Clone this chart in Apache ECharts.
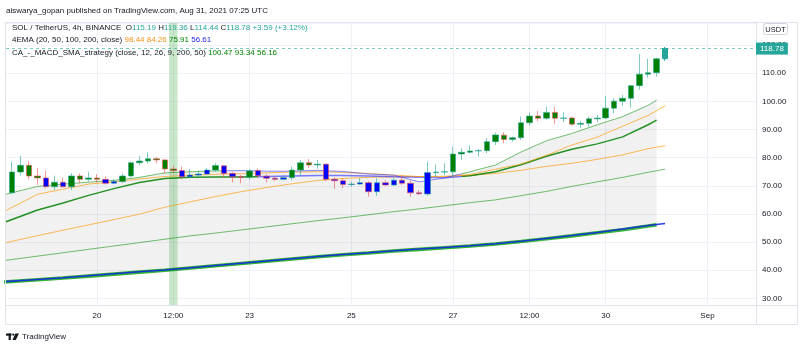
<!DOCTYPE html>
<html><head><meta charset="utf-8">
<script src="https://cdn.jsdelivr.net/npm/echarts@6/dist/echarts.min.js"></script>
<style>html,body{margin:0;padding:0;background:#fff}#c{width:800px;height:348px}</style>
</head><body><div id="c"></div>
<script>
// ---------------- data ----------------
const barStart = '2021-08-18 08:00';   // first visible 4h bar
const opens  = [67.5,74.9,77.3,73.5,72.8,69.7,71.3,69.7,73.5,72.3, 72.8,72.3,70.9,71.5,73.5,78.2,78.8,79.6,79.2,76.0,
                75.4,73.2,73.8,74.2,75.6,77.1,74.4,73.2,73.0,75.4, 73.4,72.7,72.3,72.9,75.6,78.2,77.4,77.7,72.3,71.8,
                70.5,70.6,71.1,67.9,71.1,70.3,72.0,70.9,67.5,67.1, 74.7,74.9,75.0,81.3,81.9,82.4,82.5,85.7,88.0,86.5,
                87.1,92.4,94.8,94.0,96.1,94.0,94.1,91.9,92.2,93.8, 94.1,97.6,100.1,101.1,105.6,109.7,110.2,115.19];
const closes = [74.9,77.3,73.5,72.8,69.7,71.3,69.7,73.5,72.3,72.8, 72.3,70.9,71.5,73.5,78.2,78.8,79.6,79.2,76.0,75.4,
                73.2,73.8,74.2,75.6,77.2,74.4,73.2,73.0,75.3,73.6, 72.7,72.3,72.9,75.6,78.2,77.4,77.7,72.3,71.8,70.5,
                70.6,71.1,67.9,71.1,70.3,72.0,70.9,67.5,67.2,74.7, 74.9,75.0,81.3,81.9,82.4,82.5,85.7,88.1,86.5,87.1,
                92.4,94.8,94.0,96.1,94.0,94.1,91.9,92.2,93.8,94.1, 97.6,100.1,101.1,105.6,109.7,110.2,115.19,118.78];
const lows   = [67.2,73.6,72.3,70.3,69.1,68.5,69.3,68.5,70.9,71.5, 71.1,70.5,70.6,71.0,73.0,77.4,78.0,78.0,74.4,74.4,
                72.4,72.7,73.2,73.8,75.0,72.9,71.2,70.9,72.1,72.9, 71.2,71.7,71.9,72.1,73.8,76.4,76.0,71.7,68.9,69.1,
                69.7,70.3,66.1,66.4,69.9,69.9,70.3,66.1,66.7,66.4, 73.2,73.8,73.2,79.2,81.6,80.4,81.6,84.5,85.1,85.7,
                86.3,91.4,93.0,93.4,91.9,92.6,91.4,90.4,91.0,92.6, 93.7,95.8,98.5,97.8,104.1,108.4,108.8,114.44];
const highs  = [78.4,80.7,78.8,76.3,75.4,73.6,73.0,74.5,74.4,75.0, 74.2,73.3,72.4,74.4,78.6,80.6,81.9,80.3,79.4,77.1,
                76.8,76.0,75.4,76.4,78.0,77.4,75.0,73.8,76.0,76.2, 74.1,73.5,73.8,76.8,79.2,79.5,79.2,78.0,73.0,72.7,
                71.5,72.7,71.7,72.7,72.0,72.7,73.8,72.0,68.5,78.6, 77.6,78.0,83.9,83.3,84.3,83.1,86.9,88.9,89.0,87.5,
                94.6,96.0,96.6,98.1,98.1,96.1,94.6,93.0,94.6,95.2, 101.9,101.1,102.3,105.8,116.8,115.2,115.6,119.36];
// strategy state of each bar: 1 bullish, -1 bearish, 0 bar still open
const strategySignal = [1,1,1,1,-1,1,-1,1,1,1, 1,-1,-1,1,1,1,1,1,1,1, -1,-1,-1,-1,1,-1,-1,-1,1,-1,
                        -1,-1,-1,1,1,1,1,-1,-1,-1, -1,-1,-1,-1,-1,-1,-1,-1,-1,-1, 1,1,1,1,1,1,1,1,1,1,
                        1,1,1,1,1,1,1,1,1,1, 1,1,1,1,1,1,1,0];

// indicator readings (every 3rd bar, plus last point)
const sampleTimes = ['2021-08-18 04:00','2021-08-18 20:00','2021-08-19 08:00','2021-08-19 20:00','2021-08-20 08:00',
  '2021-08-20 20:00','2021-08-21 08:00','2021-08-21 20:00','2021-08-22 08:00','2021-08-22 20:00','2021-08-23 08:00',
  '2021-08-23 20:00','2021-08-24 08:00','2021-08-24 20:00','2021-08-25 08:00','2021-08-25 20:00','2021-08-26 08:00',
  '2021-08-26 20:00','2021-08-27 08:00','2021-08-27 20:00','2021-08-28 08:00','2021-08-28 20:00','2021-08-29 08:00',
  '2021-08-29 20:00','2021-08-30 08:00','2021-08-30 20:00'];
const emaEndTime = '2021-08-31 04:00';
const stratEndTime = '2021-08-31 00:00';
const ema20  = [60.8,67.0,68.8,70.6,71.4,72.4,73.3,73.8,74.1,74.3,74.6,74.9,75.0,74.8,74.4,73.8,73.3,73.2,74.0,75.9,77.7,80.8,84.5,87.3,91.2,95.0,98.44];
const ema50  = [49.6,52.3,54.2,56.1,58.0,59.9,62.4,64.3,66.2,67.9,69.4,70.7,71.9,72.6,73.0,73.2,73.3,73.4,73.7,74.4,75.5,76.9,78.0,79.4,81.0,83.2,84.26];
const ema100 = [43.4,45.0,46.2,47.4,48.6,49.8,51.0,52.2,53.2,54.3,55.4,56.5,57.6,58.6,59.7,60.8,61.8,62.9,64.0,65.0,66.5,68.0,69.8,71.4,73.0,74.8,75.91];
const ema200 = [35.9,36.7,37.3,38.0,38.7,39.4,40.1,40.9,41.7,42.5,43.3,44.1,44.9,45.6,46.2,46.9,47.5,48.1,48.7,49.4,50.3,51.3,52.3,53.4,54.6,55.9,56.61];
const stratFast  = [66.8,69.8,70.6,71.3,71.9,73.0,74.6,75.0,75.3,75.4,75.2,75.2,75.5,75.1,74.2,73.8,71.4,72.8,75.0,77.4,82.0,86.0,88.6,91.7,94.6,98.6,100.47];
const stratSlow  = [56.9,61.4,63.9,66.6,69.0,71.2,72.6,73.0,73.1,73.1,73.3,73.5,73.7,73.7,73.5,73.2,73.0,72.9,73.6,75.0,77.5,80.5,83.0,84.9,87.4,91.7,93.34];
const stratSma200= [35.8,36.6,37.2,37.9,38.6,39.3,40.0,40.8,41.6,42.4,43.2,44.0,44.8,45.5,46.1,46.8,47.4,48.0,48.6,49.3,50.2,51.2,52.2,53.3,54.4,55.7,56.16];
const bearStartFast = '2021-08-22 12:00';
const bearStartSlow = '2021-08-23 04:00';
const bearEnd = '2021-08-27 04:00';
const highlightTime = '2021-08-21 12:00';

const tickTimes  = ['2021-08-20 00:00','2021-08-21 12:00','2021-08-23 00:00','2021-08-25 00:00','2021-08-27 00:00','2021-08-28 12:00','2021-08-30 00:00','2021-09-01 00:00'];
const tickLabels = ['20','12:00','23','25','27','12:00','30','Sep'];

// ---------------- build ----------------
const T = s => Date.parse(s.replace(' ', 'T') + ':00Z');
const H = 3600 * 1000;
const t0 = T(barStart);
const barTimes = opens.map((_, i) => t0 + i * 4 * H);
const FONT = '"Liberation Sans", Arial, sans-serif';
const f8 = '8px ' + FONT;
const TEAL = '#26a69a';
const UP_EDGE = 'rgba(38,166,154,0.6)', DN_EDGE = 'rgba(239,83,80,0.6)';
const bodyColor = s => s === 1 ? '#008000' : s === -1 ? '#0000ff' : TEAL;

const candleData = opens.map((o, i) => {
  const c = closes[i], s = strategySignal[i];
  const body = bodyColor(s);
  const edge = s === 0 ? TEAL : (c >= o ? UP_EDGE : DN_EDGE);
  return { value: [barTimes[i], o, c, lows[i], highs[i]],
           itemStyle: { color: body, color0: body, borderColor: edge, borderColor0: edge } };
});
const sT = sampleTimes.map(T);
const emaT = sT.concat([T(emaEndTime)]);
const strT = sT.concat([T(stratEndTime)]);
const pts = (ts, vs) => vs.map((v, i) => [ts[i], v]);
const n = closes.length;
const last = { o: opens[n-1], h: highs[n-1], l: lows[n-1], c: closes[n-1] };
const chg = last.c - closes[n-2];
const pct = chg / closes[n-2] * 100;
const tickNums = tickTimes.map(T);
const lastOf = a => a[a.length - 1].toFixed(2);
const labelFor = v => { const k = tickNums.findIndex(t => Math.abs(t - v) < 60000); return k >= 0 ? tickLabels[k] : ''; };

const lineS = (data, color, width, z) => ({ type: 'line', data, symbol: 'none', silent: true, z: z || 2,
  lineStyle: { color, width }, emphasis: { disabled: true } });

const GREEN_THIN = 'rgba(0,140,0,0.55)', BLUE_THIN = 'rgba(40,40,255,0.55)';
const GREEN_MID = 'rgba(0,128,0,0.85)', BLUE_MID = 'rgba(40,40,255,0.6)';
const ORANGE = 'rgba(255,152,0,0.65)';

// gray band between the fast strategy line and the strategy SMA200, as a polygon through the axes
const bandPoly = {
  type: 'custom', z: 1, silent: true, data: [0],
  renderItem: (params, api) => {
    const top = strT.map((t, i) => api.coord([t, stratFast[i]]));
    const bot = strT.map((t, i) => api.coord([t, stratSma200[i]])).reverse();
    return { type: 'polygon', shape: { points: top.concat(bot) }, style: { fill: 'rgba(0,0,0,0.055)' } };
  },
  clip: true
};

const series = [
  { type: 'line', data: [], symbol: 'none', silent: true, z: 0,
    markLine: { silent: true, z: 0.5, symbol: ['none', 'none'], label: { show: false },
      lineStyle: { color: '#eef0f4', width: 1, type: 'solid' },
      data: tickNums.map(t => ({ xAxis: t })) },
    markArea: { silent: true, z: 1.5, itemStyle: { color: 'rgba(76,175,80,0.3)' },
      data: [[{ xAxis: T(highlightTime) - 2 * H }, { xAxis: T(highlightTime) + 2 * H }]] } },
  bandPoly,
  lineS(pts(emaT, ema100), GREEN_THIN, 1),
  lineS(pts(emaT, ema50), ORANGE, 1),
  lineS(pts(strT, stratSma200), 'rgba(0,160,0,0.8)', 3.6),
  lineS(pts(emaT, ema200), 'rgba(20,40,230,0.9)', 1.5),
  { type: 'line', data: pts(strT, stratSlow), symbol: 'none', silent: true, z: 2, lineStyle: { width: 1.5 } },
  lineS(pts(emaT, ema20), ORANGE, 1),
  { type: 'line', data: pts(strT, stratFast), symbol: 'none', silent: true, z: 2, lineStyle: { width: 1 } },
  { type: 'candlestick', data: candleData, barWidth: 6, z: 3, silent: true,
    markLine: { silent: true, z: 20, symbol: ['none', 'none'], data: [{ yAxis: last.c }],
      lineStyle: { color: 'rgba(38,166,154,0.6)', width: 1, type: [3, 3] },
      label: { show: true, position: 'end', distance: 0, formatter: p => Number(p.value).toFixed(2),
        color: '#fff', backgroundColor: TEAL, padding: [2, 4, 1, 4], fontSize: 8, lineHeight: 9, fontFamily: FONT } } }
];

const option = {
  animation: false,
  backgroundColor: '#fff',
  grid: { left: 6, right: 44, top: 23, bottom: 43 },
  xAxis: { type: 'value', min: T('2021-08-18 05:05'), max: T('2021-09-01 22:53'),
    axisLine: { show: false }, axisTick: { show: false }, splitLine: { show: false },
    axisLabel: { customValues: tickNums, formatter: v => labelFor(v),
      fontSize: 8, color: '#131722', margin: 7, fontFamily: FONT, hideOverlap: false } },
  yAxis: { type: 'value', position: 'right', min: 27.62, max: 127.88, splitNumber: 10, scale: true,
    axisLine: { show: false }, axisTick: { show: false },
    axisLabel: { fontSize: 8, color: '#131722', margin: 6, fontFamily: FONT, showMinLabel: false, showMaxLabel: false,
      formatter: v => (Math.abs(v % 10) < 1e-6 ? v.toFixed(2) : '') },
    splitLine: { lineStyle: { color: '#f0f3fa' } } },
  visualMap: [
    { type: 'piecewise', show: false, seriesIndex: 8, dimension: 0,
      pieces: [{ lt: T(bearStartFast), color: GREEN_THIN }, { gte: T(bearStartFast), lt: T(bearEnd), color: BLUE_THIN }, { gte: T(bearEnd), color: GREEN_THIN }] },
    { type: 'piecewise', show: false, seriesIndex: 6, dimension: 0,
      pieces: [{ lt: T(bearStartSlow), color: GREEN_MID }, { gte: T(bearStartSlow), lt: T(bearEnd), color: BLUE_MID }, { gte: T(bearEnd), color: GREEN_MID }] }
  ],
  series,
  graphic: [
    { type: 'rect', silent: true, z: 10, shape: { x: 5.5, y: 22.5, width: 792, height: 302 }, style: { fill: 'none', stroke: '#e0e3eb', lineWidth: 1 } },
    { type: 'line', silent: true, z: 10, shape: { x1: 756.5, y1: 22.5, x2: 756.5, y2: 324.5 }, style: { stroke: '#e0e3eb', lineWidth: 1 } },
    { type: 'line', silent: true, z: 10, shape: { x1: 5.5, y1: 305.5, x2: 797.5, y2: 305.5 }, style: { stroke: '#e0e3eb', lineWidth: 1 } },
    { type: 'text', silent: true, z: 10, x: 6, y: 11,
      style: { text: 'aiswarya_gopan published on TradingView.com, Aug 31, 2021 07:25 UTC', font: f8, fill: '#131722', verticalAlign: 'middle' } },
    { type: 'text', silent: true, z: 10, x: 12, y: 28,
      style: { text: 'SOL / TetherUS, 4h, BINANCE  O{t|' + last.o.toFixed(2) + '} H{t|' + last.h.toFixed(2) + '} L{t|' + last.l.toFixed(2) +
               '} C{t|' + last.c.toFixed(2) + '} {t|+' + chg.toFixed(2) + ' (+' + pct.toFixed(2) + '%)}',
        font: f8, fill: '#131722', verticalAlign: 'middle', rich: { t: { fill: TEAL, font: f8 } } } },
    { type: 'text', silent: true, z: 10, x: 12, y: 40,
      style: { text: '4EMA (20, 50, 100, 200, close) {o|' + lastOf(ema20) + '} {o|' + lastOf(ema50) + '} {g|' + lastOf(ema100) + '} {b|' + lastOf(ema200) + '}',
        font: f8, fill: '#131722', verticalAlign: 'middle',
        rich: { o: { fill: '#f7931a', font: f8 }, g: { fill: '#008000', font: f8 }, b: { fill: '#2222ff', font: f8 } } } },
    { type: 'text', silent: true, z: 10, x: 12, y: 52.5,
      style: { text: 'CA_-_MACD_SMA_strategy (close, 12, 26, 9, 200, 50) {g|' + lastOf(stratFast) + '} {g|' + lastOf(stratSlow) + '} {g|' + lastOf(stratSma200) + '}',
        font: f8, fill: '#131722', verticalAlign: 'middle', rich: { g: { fill: '#008000', font: f8 } } } },
    { type: 'rect', silent: true, z: 10, shape: { x: 763.5, y: 23.5, width: 24, height: 11, r: 2 }, style: { fill: '#fff', stroke: '#d1d4dc', lineWidth: 1 } },
    { type: 'text', silent: true, z: 11, x: 775.5, y: 29.5, style: { text: 'USDT', font: '7.5px ' + FONT, fill: '#131722', align: 'center', verticalAlign: 'middle' } },
    { type: 'rect', silent: true, z: 10, shape: { x: 6, y: 333.5, width: 5.5, height: 2.2 }, style: { fill: '#131722' } },
    { type: 'rect', silent: true, z: 10, shape: { x: 8.6, y: 333.5, width: 2.2, height: 6.5 }, style: { fill: '#131722' } },
    { type: 'circle', silent: true, z: 10, shape: { cx: 13.3, cy: 334.6, r: 1.1 }, style: { fill: '#131722' } },
    { type: 'polygon', silent: true, z: 10, shape: { points: [[15.4, 333.5], [19, 333.5], [15.8, 340], [12.4, 340]] }, style: { fill: '#131722' } },
    { type: 'text', silent: true, z: 10, x: 22, y: 337, style: { text: 'TradingView', font: f8, fill: '#131722', verticalAlign: 'middle' } }
  ]
};
const chart = echarts.init(document.getElementById('c'), null, { renderer: 'canvas' });
chart.setOption(option);
</script>
</body></html>
